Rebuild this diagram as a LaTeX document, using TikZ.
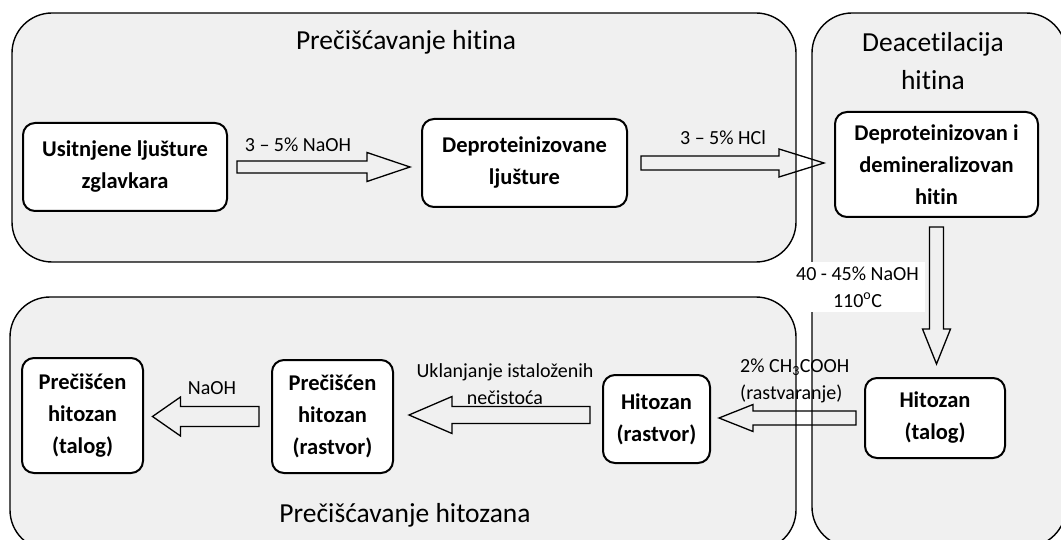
\documentclass[tikz,border=0pt]{standalone}
\usepackage{fontspec}
\setmainfont{Carlito}[Ligatures=NoCommon]
\usetikzlibrary{calc,positioning}
\definecolor{panelgray}{RGB}{240,240,240}

\begin{document}
\begin{tikzpicture}[x=1pt,y=-1pt,
  panel/.style={draw,line width=1.4pt,fill=panelgray,rounded corners=40pt},
  title node/.style={font=\fontsize{27.5}{38}\selectfont,align=center},
  box node/.style={draw,line width=2pt,fill=white,rounded corners=12pt,align=center,
    inner sep=0pt,font=\bfseries\fontsize{22.5}{32}\selectfont},
  label node/.style={font=\fontsize{20}{27.5}\selectfont,align=center,inner sep=0pt},
  fat arrow/.style n args={3}{draw,line width=1.3pt,line join=miter,to path={
    ($(\tikztotarget)!#3pt!(\tikztostart)$) coordinate (fh)
    ($(\tikztostart)!#1pt!90:(\tikztotarget)$) -- ($(fh)!#1pt!90:(\tikztotarget)$)
    -- ($(fh)!#2pt!90:(\tikztotarget)$) -- (\tikztotarget)
    -- ($(fh)!#2pt!-90:(\tikztotarget)$) -- ($(fh)!#1pt!-90:(\tikztotarget)$)
    -- ($(\tikztostart)!#1pt!-90:(\tikztotarget)$) -- cycle}}]

  \useasboundingbox (0,0) rectangle (1061,540);
  \fill[white] (0,0) rectangle (1061,540);

  % the three stages
  \draw[panel] (12,13) rectangle (796,262);
  \draw[panel] (812,13) rectangle (1066,547);
  \draw[panel] (10,297) rectangle (796,550);

  \node[title node] (t1) at (406,42) {Prečišćavanje hitina};
  \node[title node] (t2) at (933,61) {Deacetilacija\\hitina};
  \node[title node] (t3) at (405,515) {Prečišćavanje hitozana};

  \node[box node,minimum width=204pt,minimum height=88pt] (ljusture) at (125,167) {Usitnjene ljušture\\zglavkara};
  \node[box node,minimum width=205pt,minimum height=88pt] (deprot) at (524.5,163) {Deproteinizovane\\ljušture};
  \node[box node,minimum width=203pt,minimum height=105pt] (hitin) at (936.5,164.5) {Deproteinizovan i\\demineralizovan\\hitin};
  \node[box node,minimum width=140pt,minimum height=80pt] (talog) at (935,418) {Hitozan\\(talog)};
  \node[box node,minimum width=107pt,minimum height=88pt] (rastvor) at (656.5,419) {Hitozan\\(rastvor)};
  \node[box node,minimum width=121pt,minimum height=113pt] (prec-rastvor) at (332.5,416.5) {Prečišćen\\hitozan\\(rastvor)};
  \node[box node,minimum width=121pt,minimum height=115pt] (prec-talog) at (82.5,415.5) {Prečišćen\\hitozan\\(talog)};

  \path
    ([xshift=9pt]ljusture.east) edge[fat arrow={6}{14.5}{43}] ([xshift=-11pt]deprot.west |- ljusture.east)
    ([xshift=13pt]deprot.east) edge[fat arrow={7}{14}{45}] ([xshift=-10pt]hitin.west |- deprot.east)
    ([yshift=-9pt]hitin.south) edge[fat arrow={7}{14}{35}] ([yshift=13pt]talog.north -| hitin.south)
    ([xshift=-8pt]talog.west) edge[fat arrow={7}{13.5}{34}] ([xshift=8pt]rastvor.east |- talog.west)
    ([xshift=-12pt,yshift=4pt]rastvor.west) edge[fat arrow={8.5}{18.5}{43}] ([xshift=15pt,yshift=4pt]prec-rastvor.east |- rastvor.west)
    ([xshift=-12pt]prec-rastvor.west) edge[fat arrow={10}{19.5}{28}] ([xshift=8.5pt]prec-talog.east |- prec-rastvor.west);

  \node[label node] (l1) at (298,145) {3 – 5\% NaOH};
  \node[label node] (l2) at (723,138) {3 – 5\% HCl};
  \node[label node,fill=white,minimum width=135pt,minimum height=50pt] (l3) at (857.5,287) {40 - 45\% NaOH\\110\textsuperscript{o}C};
  \node[label node,align=left,anchor=west] (l4) at (740,381) {2\% CH\textsubscript{3}COOH\\(rastvaranje)};
  \node[label node] (l5) at (505,384) {Uklanjanje istaloženih\\nečistoća};
  \node[label node] (l6) at (212,388) {NaOH};
\end{tikzpicture}
\end{document}
